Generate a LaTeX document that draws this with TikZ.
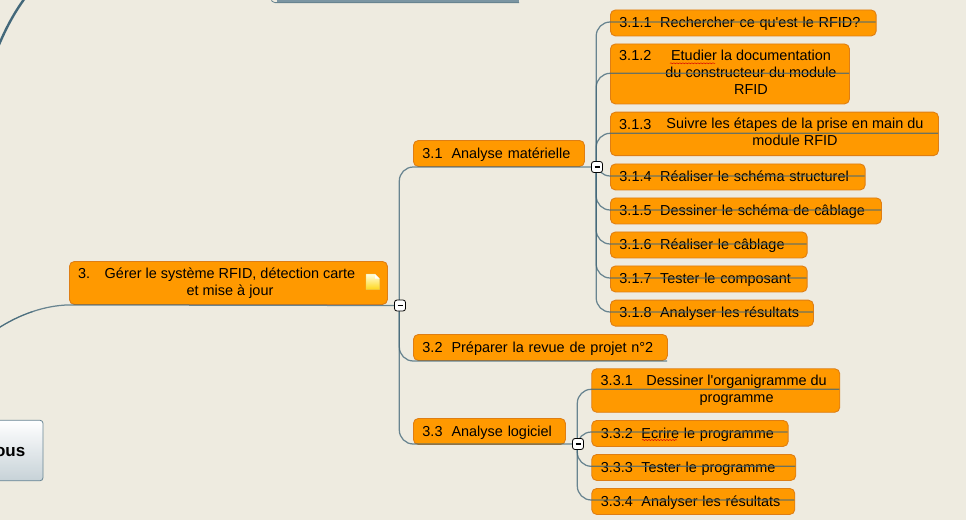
\documentclass[tikz,border=0pt]{standalone}
\usepackage{fontspec}
\setmainfont{Liberation Sans}
\usetikzlibrary{decorations.pathmorphing}
\definecolor{paper}{HTML}{EEEBE0}
\definecolor{boxfill}{HTML}{FF9900}
\definecolor{boxedge}{HTML}{DE7E14}
\definecolor{linkcol}{HTML}{43687A}
\pgfdeclarelayer{hubs}
\pgfsetlayers{main,hubs}
\tikzset{
 taskbox/.style={draw=boxedge, fill=boxfill, line width=.9pt, rounded corners=5pt, anchor=north west,
   inner xsep=9pt, inner ysep=0pt, align=left, text=black, text height=12.5pt, text depth=3pt,
   font=\fontsize{14.45}{17}\selectfont},
 emptybox/.style={draw=boxedge, fill=boxfill, line width=.9pt, rounded corners=5pt, anchor=north west, inner sep=0pt},
 tasktext/.style={inner sep=0pt, align=center, text=black, font=\fontsize{14.45}{17}\selectfont},
 tasknum/.style={inner sep=0pt, anchor=base west, text=black, font=\fontsize{14.45}{17}\selectfont},
 link/.style={draw=linkcol, line width=1.25pt, opacity=.78, rounded corners=14pt},
 hubbox/.style={draw=black, fill=white, line width=.8pt, rounded corners=2.5pt, minimum size=11pt, inner sep=0pt},
 spell/.style={draw=red!85!black, line width=.5pt, decorate, decoration={snake, amplitude=.5pt, segment length=3pt}}
}
\begin{document}
\begin{tikzpicture}[x=1pt,y=-1pt]
\useasboundingbox (0,0) rectangle (966,520);
\fill[paper] (0,0) rectangle (966,520);

% hubs sit above the links
\begin{pgfonlayer}{hubs}
\foreach \name/\hx/\hy in {h3/400/305.5, h31/597/167, h33/578/444}
 \node (\name) [hubbox] at (\hx,\hy) {\rule{5pt}{1.5pt}};
\end{pgfonlayer}
\coordinate (s3) at (399.3,305.5);
\coordinate (s31) at (596.2,167);
\coordinate (s33) at (577.3,444);

% boxes with one line of text
\foreach \name/\bx/\by/\bw/\bh/\ly/\txt in {
 n31/413/140/171/26/167/{3.1\hspace{9pt}Analyse matérielle},
 n32/413/334/254/26/361/{3.2\hspace{9pt}Préparer la revue de projet n°2},
 n33/413/418/152/26/444/{3.3\hspace{9pt}Analyse logiciel},
 n311/610/9.5/265.7/26/22/{3.1.1\hspace{8.5pt}Rechercher ce qu\textquotesingle est le RFID?},
 n314/610/163.5/254.7/26/176/{3.1.4\hspace{8.5pt}Réaliser le schéma structurel},
 n315/610/197.5/271/26/210/{3.1.5\hspace{8.5pt}Dessiner le schéma de câblage},
 n316/610/231.5/196.7/26/244/{3.1.6\hspace{8.5pt}Réaliser le câblage},
 n317/610/265.5/196.7/26/278/{3.1.7\hspace{8.5pt}Tester le composant},
 n318/610/299.7/203/26/312/{3.1.8\hspace{8.5pt}Analyser les résultats},
 n332/591.3/420/196.4/26/432/{3.3.2\hspace{8.5pt}Ecrire le programme},
 n333/591.3/454/204/26/466.3/{3.3.3\hspace{8.5pt}Tester le programme},
 n334/591.3/488/203/26/500/{3.3.4\hspace{8.5pt}Analyser les résultats}}
{
 \node (\name) [taskbox, text width=\bw pt-18pt, minimum height=\bh pt] at (\bx,\by) {\txt};
 \coordinate (\name-end) at (\bx+\bw,\ly);
}

% boxes with wrapped text
\foreach \name/\bx/\by/\bw/\bh/\ly/\tx/\ty/\nx/\ny/\num/\txt in {
 n3/69/261/318/43/305.5/230/283/78/278.5/{3.}/{Gérer le système RFID, détection carte\\et mise à jour},
 n312/610/43.5/239/60/73.3/751/72.4/619/60.7/{3.1.2}/{Etudier la documentation\\du constructeur du module\\RFID},
 n313/610/111.7/328/43.5/133.3/795/131.9/619/129/{3.1.3}/{Suivre les étapes de la prise en main du\\module RFID},
 n331/591.3/368.3/248/43.5/389.3/736.6/390.2/600.5/385.7/{3.3.1}/{Dessiner l\textquotesingle organigramme du\\programme}}
{
 \node (\name) [emptybox, minimum width=\bw pt, minimum height=\bh pt] at (\bx,\by) {};
 \node (\name-txt) [tasktext] at (\tx,\ty) {\txt};
 \node (\name-num) [tasknum] at (\nx,\ny) {\num};
 \coordinate (\name-end) at (\bx+\bw,\ly);
}

% spelling marks
\draw[spell] (670,63.3) -- (715,63.3);
\draw[spell] (642,440) -- (677,440);

% note on the box 3
\shade[top color=yellow!12, bottom color=yellow!65!orange!90, draw=yellow!70!black!60, line width=.3pt]
 (366,274) -- (375,274) -- (379.5,278.5) -- (379.5,289.5) -- (366,289.5) -- cycle;
\fill[white] (375,274) -- (375,278.5) -- (379.5,278.5) -- cycle;

% root box, cut by the page edge
\node (root) [draw=linkcol!80, top color=white, bottom color=linkcol!30, rounded corners=3pt, line width=.8pt,
 minimum width=65.6pt, minimum height=60.5pt, inner sep=0pt, text height=12.4pt, text depth=0pt,
 font=\fontsize{17}{19}\selectfont\bfseries] at (10.2,450.5) {ous};

% links
\foreach \child/\hub in {n311/s31, n312/s31, n313/s31, n314/s31, n315/s31, n316/s31, n317/s31, n318/s31,
 n32/s3, n331/s33, n332/s33, n333/s33, n334/s33}
 \draw[link] (\hub) |- (\child-end);
\draw[link] (s3) |- (h31.center);
\draw[link] (s3) |- (h33.center);

\coordinate (offleft) at (-3,329);
\coordinate (offtop) at (25,-2);
\coordinate (offbottom) at (-2,47);
\draw[link, rounded corners=0pt] (offleft) .. controls (20,314) and (45,305.5) .. (n3.south west) -- (h3.center);
\draw[link, rounded corners=0pt, line width=1pt] (offleft) .. controls (8.5,321.5) and (20.5,315.6) .. (32.6,311.6);
\draw[draw=linkcol, line width=2.4pt] (offtop) .. controls (14,13) and (6,28) .. (offbottom);

% edge of a box above the page
\coordinate (stripstart) at (271,-1);
\coordinate (stripend) at (519,2.6);
\fill[linkcol!70] (277,0) rectangle (519,2.2);
\draw[link, line width=.8pt, rounded corners=4pt] (stripstart) |- (stripend);
\end{tikzpicture}
\end{document}
